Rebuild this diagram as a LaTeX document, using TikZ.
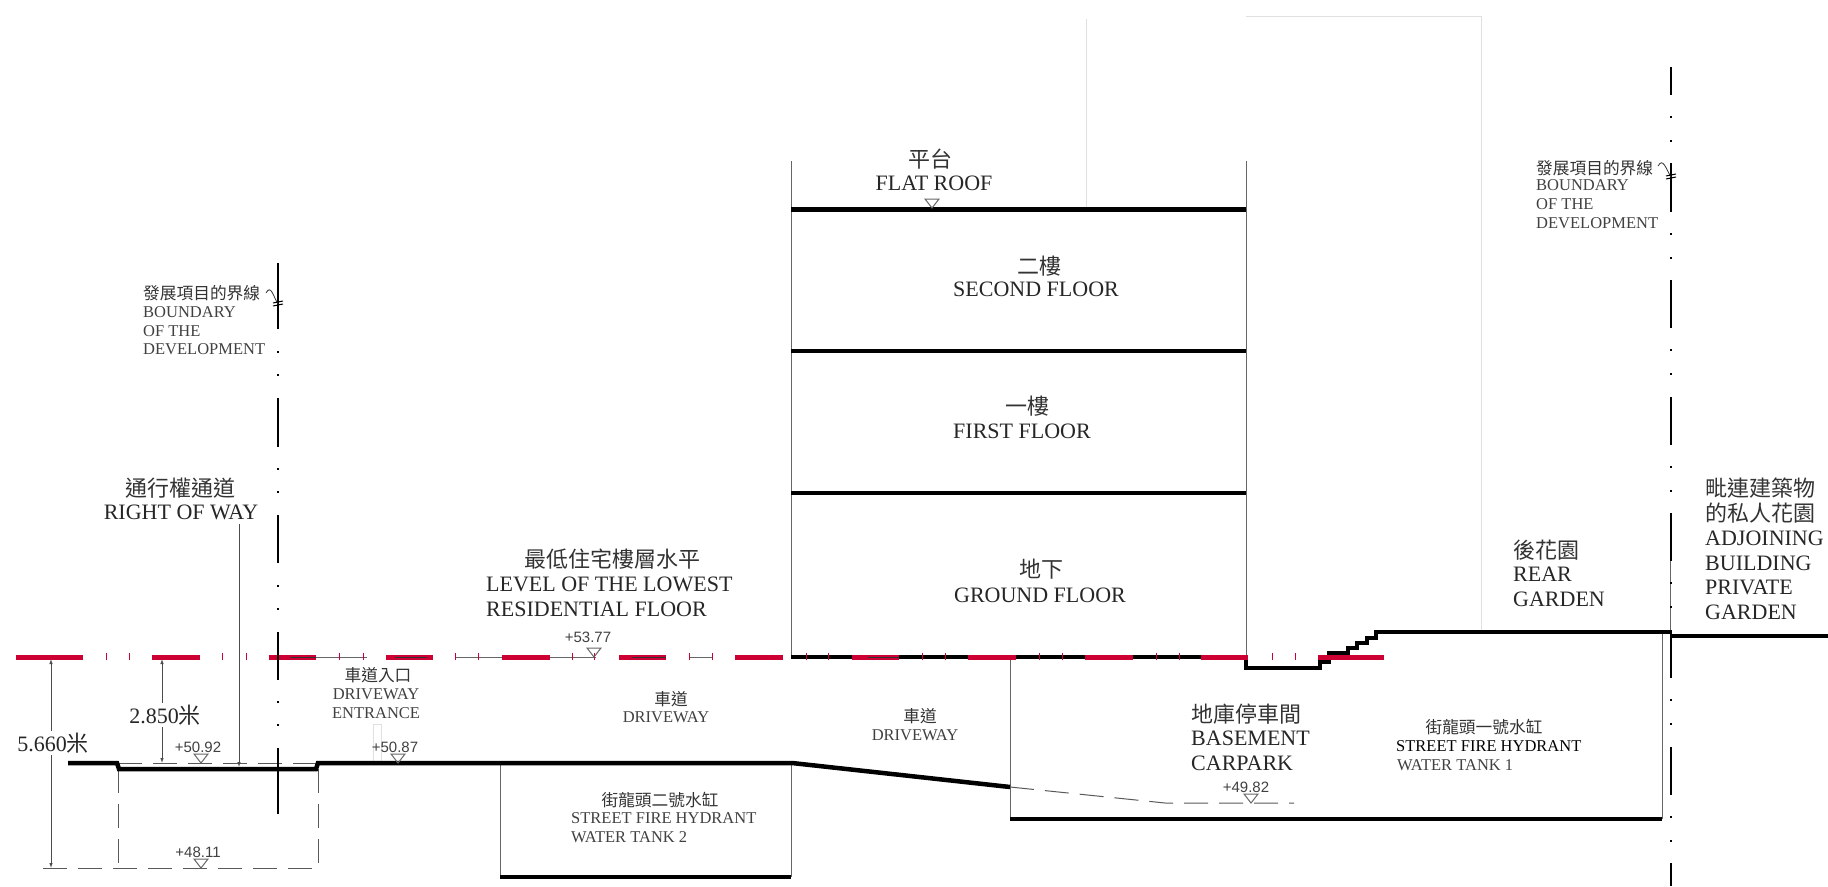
\documentclass[tikz,border=0pt]{standalone}
\usepackage{fontspec}
\setmainfont{Liberation Serif}
\setsansfont{Liberation Sans}
\newfontfamily\cjk{Noto Sans CJK TC}
\usetikzlibrary{arrows.meta}
\definecolor{levelred}{HTML}{CC0033}

% triangle standing on a level line
\newcommand{\levelmark}[2]{\draw[thinline] (#1-7,#2-9) -- (#1+7,#2-9) -- (#1,#2) -- cycle;}

\begin{document}
\begin{tikzpicture}[x=1pt, y=-1pt,
	thickline/.style={line width=4.5pt, black},
	thinline/.style={line width=1pt, black!60},
	dashline/.style={line width=1pt, black!65, dash pattern=on 24pt off 11pt},
	faintline/.style={line width=0.8pt, black!12},
	dimline/.style={line width=0.8pt, black!70},
	tip/.style={{Latex[length=5pt,width=3.5pt]}-{Latex[length=5pt,width=3.5pt]}},
	endtip/.style={-{Latex[length=5pt,width=3.5pt]}},
	redline/.style={line width=5pt, levelred},
	bigtext/.style={inner sep=0pt, font=\fontsize{22}{24}\selectfont, black!85},
	smalltext/.style={inner sep=0pt, font=\fontsize{16.5}{18}\selectfont, black!75},
	bigcjk/.style={inner sep=0pt, font=\fontsize{22}{24}\cjk\selectfont, black!80},
	smallcjk/.style={inner sep=0pt, font=\fontsize{16.7}{18}\cjk\selectfont, black!80},
	leveltext/.style={inner sep=0pt, font=\fontsize{15}{17}\sffamily\selectfont, black!75}]
	\useasboundingbox (0,0) rectangle (1828,886);

	%faint outline behind the building
	\draw[faintline] (1086,19) -- (1086,209);
	\draw[faintline] (1246,16) -- (1481,16) -- (1481,632);
	\draw[faintline] (373,763) -- (373,724) -- (381,724) -- (381,763);

	%walls
	\draw[thinline] (791,161) -- (791,657);
	\draw[thinline] (1246,161) -- (1246,657);
	\draw[thinline] (500,763) -- (500,877);
	\draw[thinline] (791,763) -- (791,877);
	\draw[thinline] (1010,657) -- (1010,819);
	\draw[thinline] (1662,632) -- (1662,819);
	\draw[thinline] (1670,561) -- (1670,632);

	%dashed outlines
	\draw[dashline] (43,868) -- (318,868);
	\draw[dashline] (118,769) -- (118,868);
	\draw[dashline] (318,769) -- (318,868);
	\draw[dashline] (118,763) -- (318,763);
	\draw[dashline] (1010,787) -- (1165,803) -- (1294,803);

	%thin part of the level line
	\foreach \xa/\xb in {316/367, 455/596, 689/712, 735/783}
		\draw[thinline] (\xa,657) -- (\xb,657);

	%floors and ground
	\draw[thickline] (791,209.5) -- (1246,209.5);
	\draw[thickline] (791,351) -- (1246,351);
	\draw[thickline] (791,493) -- (1246,493);
	\draw[thickline] (791,657) -- (1246,657);
	\draw[thickline] (68,763) -- (117,763) -- (119,769) -- (316,769) -- (318,763) -- (792,763) -- (1010,787);
	\draw[thickline] (500,877) -- (791,877);
	\draw[thickline] (1010,819) -- (1662,819);
	\draw[thickline] (1246,657) -- (1246,668) -- (1320,668) -- (1320,662) -- (1329,662) -- (1329,653) -- (1348,653) -- (1348,648) -- (1357,648) -- (1357,643) -- (1367,643) -- (1367,638) -- (1376,638) -- (1376,632) -- (1672,632);
	\draw[thickline] (1672,636) -- (1828,636);

	%red level line
	\foreach \xa/\xb in {16/83, 152/200, 269/316, 386/433, 502/550, 619/666, 735/783, 852/899, 968/1016, 1085/1133, 1201/1248, 1318/1384}
		\draw[redline] (\xa,657) -- (\xb,657);
	\foreach \xa in {106,129,222,246,339,363,455,478,572,594,689,712,806,828,922,945,1039,1062,1156,1179,1272,1295}
		\draw[line width=1pt, levelred] (\xa,653) -- (\xa,660);
	\foreach \xa/\xb in {290/316, 395/427, 632/666, 868/899}
		\draw[line width=1pt, black!80] (\xa,657) -- (\xb,657);

	%boundary lines
	\foreach \ya/\yb in {263/329, 398/447, 515/563, 632/680, 748/814}
		\draw[line width=2.6pt, black] (278,\ya) -- (278,\yb);
	\foreach \ya in {352,375,469,492,586,609,702,725}
		\fill[black] (276.7,\ya-1.3) rectangle (279.3,\ya+1.3);
	\foreach \ya/\yb in {67/95, 163/212, 280/328, 397/445, 513/561, 630/678, 747/795, 863/886}
		\draw[line width=2.6pt, black] (1671,\ya) -- (1671,\yb);
	\foreach \ya in {117,141,234,258,350,374,467,491,583,607,700,724,817,841}
		\fill[black] (1669.7,\ya-1.3) rectangle (1672.3,\ya+1.3);

	%boundary leaders
	\coordinate (leftleaderstart) at (266,293);
	\coordinate (leftleaderend) at (278,304);
	\coordinate (rightleaderstart) at (1658,166);
	\coordinate (rightleaderend) at (1671,177);
	\draw[line width=0.8pt, black!80] (leftleaderstart) .. controls (271,284) and (273,296) .. (leftleaderend);
	\draw[line width=0.8pt, black!80] (rightleaderstart) .. controls (1663,157) and (1666,169) .. (rightleaderend);
	\draw[line width=1pt, black] (273,303) -- (283,301) (273,306) -- (283,304);
	\draw[line width=1pt, black] (1666,176) -- (1676,174) (1666,179) -- (1676,177);

	%dimensions
	\coordinate (leveltopa) at (51,659);
	\coordinate (levelbottoma) at (51,868);
	\coordinate (leveltopb) at (162,659);
	\coordinate (levelbottomb) at (162,763);
	\coordinate (waystart) at (239,524);
	\coordinate (wayend) at (239,767);
	\draw[dimline, tip] (leveltopa) -- (levelbottoma);
	\draw[dimline, tip] (leveltopb) -- (levelbottomb);
	\draw[dimline, endtip] (waystart) -- (wayend);
	\node[bigtext, fill=white, inner sep=2pt] (deepdim) at (53,743) {5.660{\cjk 米}};
	\node[bigtext, fill=white, inner sep=2pt] (shallowdim) at (165,715) {2.850{\cjk 米}};

	%level marks
	\levelmark{201}{763}
	\levelmark{398}{763}
	\levelmark{201}{868}
	\levelmark{594}{657}
	\levelmark{1251}{803}
	\levelmark{932}{208}
	\node[leveltext] (leva) at (198,747) {+50.92};
	\node[leveltext] (levb) at (395,747) {+50.87};
	\node[leveltext] (levc) at (198,852) {+48.11};
	\node[leveltext] (levd) at (588,637) {+53.77};
	\node[leveltext] (leve) at (1246,787) {+49.82};

	%building labels
	\node[bigcjk] (roofcn) at (930,159) {平台};
	\node[bigtext] (roofen) at (934,183) {FLAT ROOF};
	\node[bigcjk] (secondcn) at (1039,266) {二樓};
	\node[bigtext] (seconden) at (1036,289) {SECOND FLOOR};
	\node[bigcjk] (firstcn) at (1027,406) {一樓};
	\node[bigtext] (firsten) at (1022,431) {FIRST FLOOR};
	\node[bigcjk] (groundcn) at (1041,569) {地下};
	\node[bigtext] (grounden) at (1040,595) {GROUND FLOOR};

	%lowest floor
	\node[bigcjk] (lowestcn) at (612,559) {最低住宅樓層水平};
	\node[bigtext, anchor=west] (lowesta) at (486,584) {LEVEL OF THE LOWEST};
	\node[bigtext, anchor=west] (lowestb) at (486,609) {RESIDENTIAL FLOOR};

	%right of way
	\node[bigcjk] (waycn) at (180,488) {通行權通道};
	\node[bigtext] (wayen) at (181,512) {RIGHT OF WAY};

	%boundary labels
	\node[smallcjk, anchor=west] (boundlcn) at (143,293) {發展項目的界線};
	\node[smalltext, anchor=west] (boundla) at (143,312) {BOUNDARY};
	\node[smalltext, anchor=west] (boundlb) at (143,331) {OF THE};
	\node[smalltext, anchor=west] (boundlc) at (143,349) {DEVELOPMENT};
	\node[smallcjk, anchor=west] (boundrcn) at (1536,168) {發展項目的界線};
	\node[smalltext, anchor=west] (boundra) at (1536,185) {BOUNDARY};
	\node[smalltext, anchor=west] (boundrb) at (1536,204) {OF THE};
	\node[smalltext, anchor=west] (boundrc) at (1536,223) {DEVELOPMENT};

	%driveway labels
	\node[smallcjk] (entrycn) at (378,675) {車道入口};
	\node[smalltext] (entrya) at (376,694) {DRIVEWAY};
	\node[smalltext] (entryb) at (376,713) {ENTRANCE};
	\node[smallcjk] (drivecn) at (671,699) {車道};
	\node[smalltext] (driveen) at (666,717) {DRIVEWAY};
	\node[smallcjk] (slopecn) at (920,716) {車道};
	\node[smalltext] (slopeen) at (915,735) {DRIVEWAY};

	%water tanks
	\node[smallcjk] (tankbcn) at (660,800) {街龍頭二號水缸};
	\node[smalltext, anchor=west] (tankba) at (571,818) {STREET FIRE HYDRANT};
	\node[smalltext, anchor=west] (tankbb) at (571,837) {WATER TANK 2};
	\node[smallcjk] (tankacn) at (1484,727) {街龍頭一號水缸};
	\node[smalltext, anchor=west, black] (tankaa) at (1396,746) {STREET FIRE HYDRANT};
	\node[smalltext, anchor=west] (tankab) at (1397,765) {WATER TANK 1};

	%basement
	\node[bigcjk, anchor=west] (carcn) at (1191,714) {地庫停車間};
	\node[bigtext, anchor=west] (cara) at (1191,738) {BASEMENT};
	\node[bigtext, anchor=west] (carb) at (1191,763) {CARPARK};

	%gardens
	\node[bigcjk, anchor=west] (rearcn) at (1513,550) {後花園};
	\node[bigtext, anchor=west] (reara) at (1513,574) {REAR};
	\node[bigtext, anchor=west] (rearb) at (1513,599) {GARDEN};
	\node[bigcjk, anchor=west] (adjcna) at (1705,488) {毗連建築物};
	\node[bigcjk, anchor=west] (adjcnb) at (1705,513) {的私人花園};
	\node[bigtext, anchor=west] (adja) at (1705,538) {ADJOINING};
	\node[bigtext, anchor=west] (adjb) at (1705,563) {BUILDING};
	\node[bigtext, anchor=west] (adjc) at (1705,587) {PRIVATE};
	\node[bigtext, anchor=west] (adjd) at (1705,612) {GARDEN};
\end{tikzpicture}
\end{document}
